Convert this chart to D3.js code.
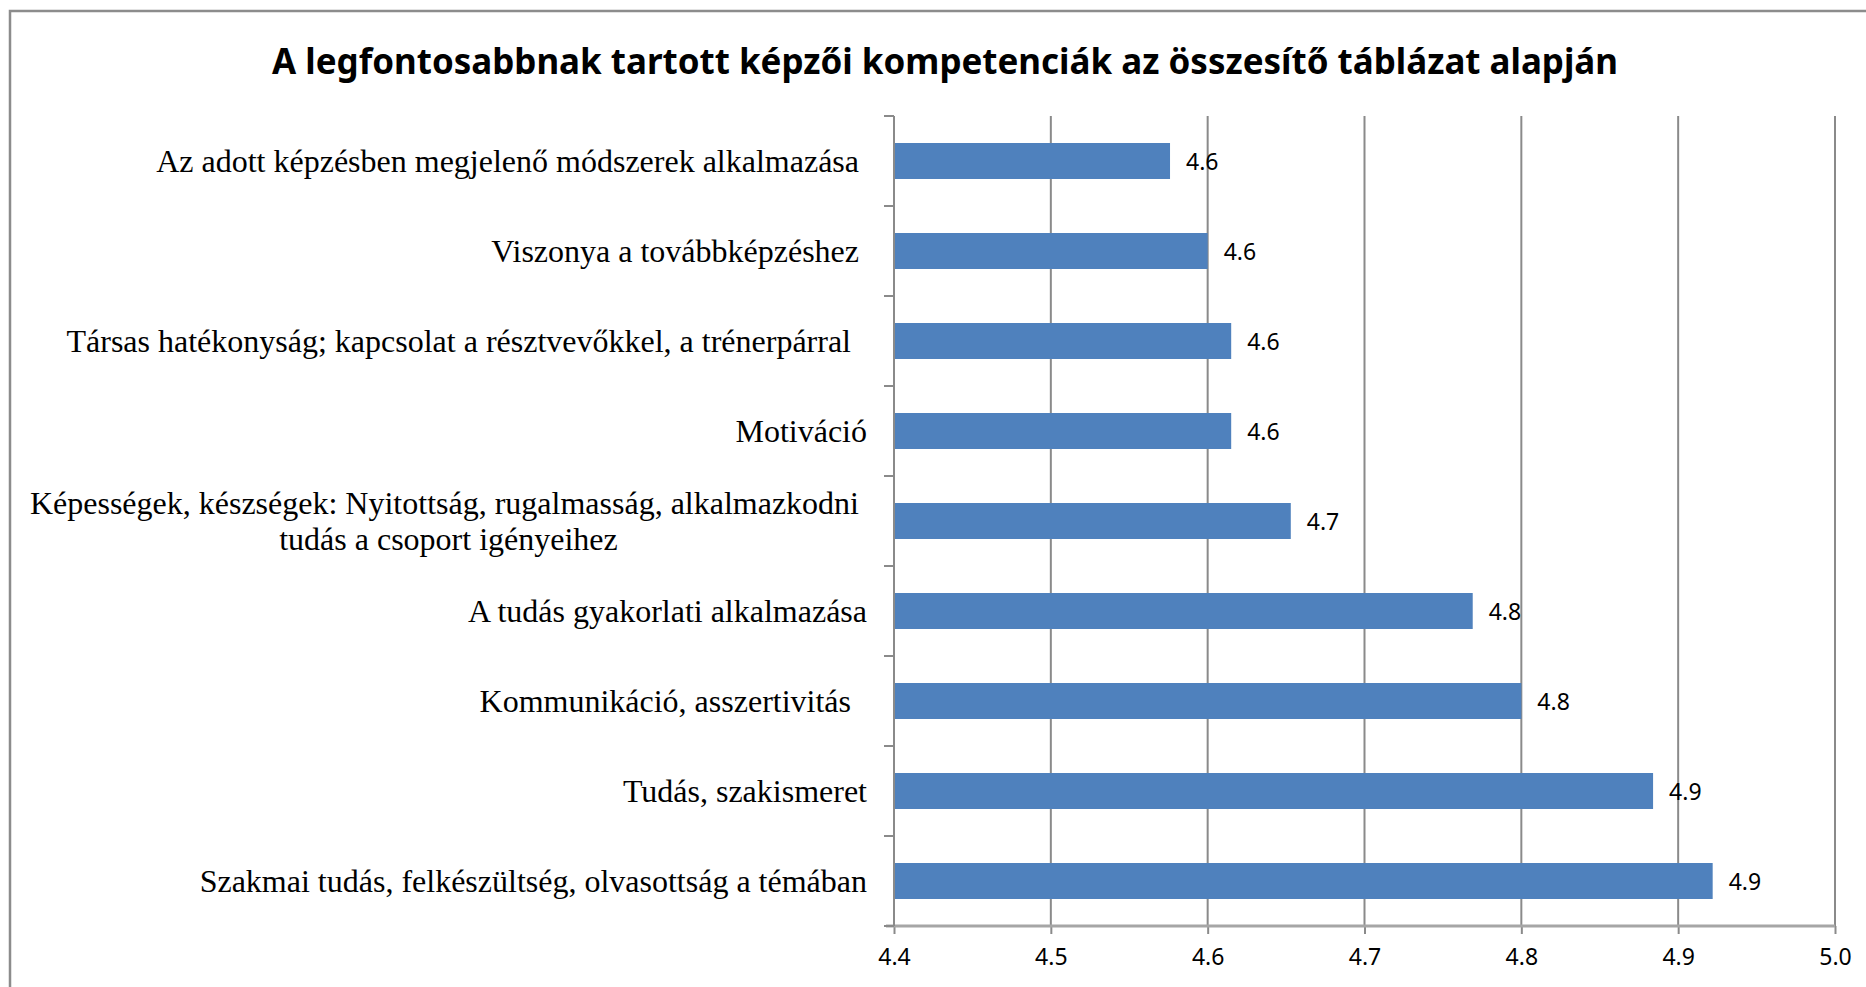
<!DOCTYPE html>
<html>
<head>
<meta charset="utf-8">
<script src="https://cdn.jsdelivr.net/npm/d3@7"></script>
<style>
    body { margin: 0; background: #fff; }
    svg { display: block; }
</style>
</head>
<body>
<div id="chart"></div>
<script>
// data (top to bottom)
const categories = [
    "Az adott képzésben megjelenő módszerek alkalmazása ",
    "Viszonya a továbbképzéshez ",
    "Társas hatékonyság; kapcsolat a résztvevőkkel, a trénerpárral  ",
    "Motiváció",
    "Képességek, készségek: Nyitottság, rugalmasság, alkalmazkodni |tudás a csoport igényeihez",
    "A tudás gyakorlati alkalmazása",
    "Kommunikáció, asszertivitás  ",
    "Tudás, szakismeret",
    "Szakmai tudás, felkészültség, olvasottság a témában"
]
const values = [4.576, 4.600, 4.615, 4.615, 4.653, 4.769, 4.800, 4.884, 4.922]
const xTicks = [4.4, 4.5, 4.6, 4.7, 4.8, 4.9, 5.0]
const xDomain = [4.4, 5.0]
const title = "A legfontosabbnak tartott képzői kompetenciák az összesítő táblázat alapján"

const dataset = categories.map((c, i) => ({ category: c, value: values[i] }))

let dimensions = {
    width: 1866,
    height: 987,
    margin: {
        top: 116,
        right: 31,
        bottom: 61,
        left: 894,
    },
}
dimensions.boundedWidth = dimensions.width - dimensions.margin.left - dimensions.margin.right
dimensions.boundedHeight = dimensions.height - dimensions.margin.top - dimensions.margin.bottom

const wrapper = d3.select("#chart").append("svg")
    .attr("width", dimensions.width)
    .attr("height", dimensions.height)

// outer frame of the chart area (cut off at right and bottom)
wrapper.append("rect")
    .attr("x", 10)
    .attr("y", 11)
    .attr("width", dimensions.width)
    .attr("height", dimensions.height)
    .attr("fill", "none")
    .attr("stroke", "#8c8c8c")
    .attr("stroke-width", 2.5)

wrapper.append("text")
    .attr("x", 945)
    .attr("y", 60)
    .attr("text-anchor", "middle")
    .attr("dominant-baseline", "central")
    .attr("font-family", "'Noto Sans', sans-serif")
    .attr("font-weight", "bold")
    .attr("font-size", 36)
    .attr("textLength", 1346)
    .attr("lengthAdjust", "spacingAndGlyphs")
    .attr("fill", "#000")
    .text(title)

const bounds = wrapper.append("g")
    .attr("transform", `translate(${dimensions.margin.left}, ${dimensions.margin.top})`)

// scales
const xScale = d3.scaleLinear()
    .domain(xDomain)
    .range([0, dimensions.boundedWidth])

const yScale = d3.scaleBand()
    .domain(categories)
    .range([0, dimensions.boundedHeight])
    .paddingInner(0.6)
    .paddingOuter(0.3)

// gridlines
bounds.append("g")
    .selectAll("line")
    .data(xTicks.slice(1))
    .join("line")
    .attr("x1", d => xScale(d))
    .attr("x2", d => xScale(d))
    .attr("y1", 0)
    .attr("y2", dimensions.boundedHeight)
    .attr("stroke", "#8a8a8a")
    .attr("stroke-width", 2)

// bars
bounds.append("g")
    .selectAll("rect")
    .data(dataset)
    .join("rect")
    .attr("x", 0)
    .attr("y", d => yScale(d.category))
    .attr("width", d => xScale(d.value) - xScale(xDomain[0]))
    .attr("height", yScale.bandwidth())
    .attr("fill", "#4f81bd")

// value labels
bounds.append("g")
    .selectAll("text")
    .data(dataset)
    .join("text")
    .attr("x", d => xScale(d.value) + 16)
    .attr("y", d => yScale(d.category) + yScale.bandwidth() / 2)
    .attr("dominant-baseline", "central")
    .attr("font-family", "'Noto Sans', sans-serif")
    .attr("font-size", 23)
    .attr("fill", "#000")
    .text(d => d3.format(".1f")(d.value))

// x axis
const xAxisGenerator = d3.axisBottom()
    .scale(xScale)
    .tickValues(xTicks)
    .tickSize(8)
    .tickPadding(15)
    .tickFormat(d3.format(".1f"))

const xAxis = bounds.append("g")
    .attr("transform", `translate(0, ${dimensions.boundedHeight})`)
    .call(xAxisGenerator)

xAxis.select(".domain").remove()
xAxis.append("line")
    .attr("x1", -8)
    .attr("x2", dimensions.boundedWidth)
    .attr("stroke", "#a6a6a6")
    .attr("stroke-width", 3)
xAxis.selectAll(".tick line")
    .attr("stroke", "#8a8a8a")
    .attr("stroke-width", 2)
xAxis.selectAll(".tick text")
    .attr("font-family", "'Noto Sans', sans-serif")
    .attr("font-size", 23)
    .attr("fill", "#000")

// y axis: line + ticks on category boundaries
const yAxis = bounds.append("g")
yAxis.append("line")
    .attr("x1", 0)
    .attr("x2", 0)
    .attr("y1", 0)
    .attr("y2", dimensions.boundedHeight)
    .attr("stroke", "#8a8a8a")
    .attr("stroke-width", 2)

const boundaries = d3.range(categories.length + 1).map(i => i * yScale.step())
yAxis.selectAll(".ytick")
    .data(boundaries)
    .join("line")
    .attr("class", "ytick")
    .attr("x1", -10)
    .attr("x2", 0)
    .attr("y1", d => d)
    .attr("y2", d => d)
    .attr("stroke", "#8a8a8a")
    .attr("stroke-width", 2)

// category labels (Times-like serif, right aligned, wrapped where "|" is)
const labelRight = 867 - dimensions.margin.left
const lineHeight = 36
const labels = yAxis.selectAll(".ylabel")
    .data(dataset)
    .join("text")
    .attr("class", "ylabel")
    .attr("font-family", "'Liberation Serif', 'Times New Roman', serif")
    .attr("font-size", 32)
    .attr("fill", "#000")
    .style("white-space", "pre")
    .attr("dominant-baseline", "central")

labels.each(function (d) {
    const text = d3.select(this)
    const lines = d.category.split("|")
    const cy = yScale(d.category) + yScale.bandwidth() / 2
    if (lines.length === 1) {
        text.attr("text-anchor", "end")
            .attr("x", labelRight)
            .attr("y", cy)
            .text(lines[0])
        return
    }
    // wrapped label: centre the lines under the widest one
    text.attr("text-anchor", "middle")
    const spans = lines.map((l, i) => text.append("tspan")
        .attr("y", cy + (i - (lines.length - 1) / 2) * lineHeight)
        .text(l))
    const widest = d3.max(spans, s => s.node().getComputedTextLength())
    spans.forEach(s => s.attr("x", labelRight - widest / 2))
})
</script>
</body>
</html>
